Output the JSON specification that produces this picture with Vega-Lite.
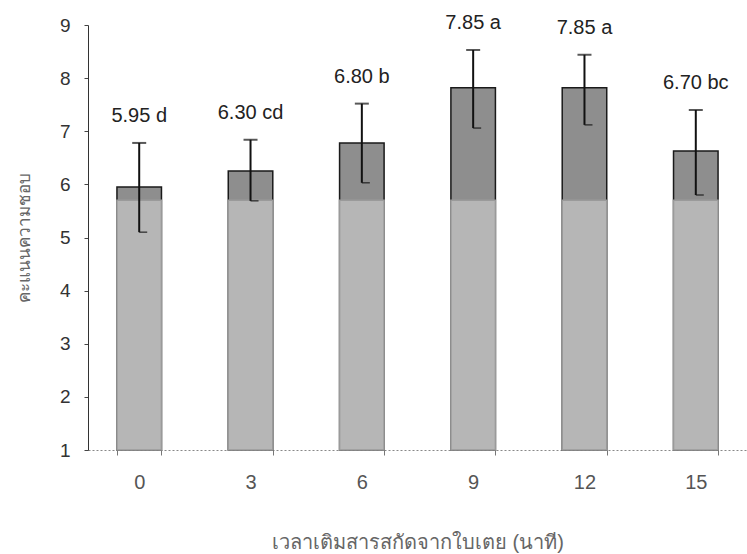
{
  "$schema": "https://vega.github.io/schema/vega-lite/v6.json",
  "width": 659,
  "height": 425,
  "autosize": "none",
  "padding": {"left": 88, "top": 25, "right": 0, "bottom": 104},
  "background": "white",
  "config": {"view": {"stroke": null}, "font": "Liberation Sans"},
  "data": {
    "values": [
      {"t": "0", "mean": 5.95, "lo": 5.10, "hi": 6.78, "label": "5.95 d"},
      {"t": "3", "mean": 6.25, "lo": 5.69, "hi": 6.84, "label": "6.30 cd"},
      {"t": "6", "mean": 6.78, "lo": 6.03, "hi": 7.52, "label": "6.80 b"},
      {"t": "9", "mean": 7.82, "lo": 7.06, "hi": 8.53, "label": "7.85 a"},
      {"t": "12", "mean": 7.82, "lo": 7.12, "hi": 8.44, "label": "7.85 a"},
      {"t": "15", "mean": 6.63, "lo": 5.80, "hi": 7.40, "label": "6.70 bc"}
    ]
  },
  "encoding": {
    "x": {
      "field": "t",
      "type": "ordinal",
      "sort": null,
      "scale": {"paddingInner": 0.6, "paddingOuter": 0.26},
      "axis": {
        "title": "เวลาเติมสารสกัดจากใบเตย (นาที)",
        "titleFontSize": 20,
        "titleFontWeight": "normal",
        "titleColor": "#666666",
        "titlePadding": 40,
        "labelAngle": 0,
        "labelFontSize": 20,
        "labelColor": "#555555",
        "labelPadding": 17,
        "ticks": true,
        "tickBand": "extent",
        "tickSize": 5,
        "tickColor": "#777777",
        "tickWidth": 1,
        "domainColor": "#888888",
        "domainDash": [2, 2],
        "domainWidth": 1
      }
    }
  },
  "layer": [
    {
      "mark": {"type": "bar", "color": "#8e8e8e", "stroke": "#1a1a1a", "strokeWidth": 1.5},
      "encoding": {
        "y": {
          "field": "mean",
          "type": "quantitative",
          "scale": {"domain": [1, 9], "zero": false, "nice": false},
          "axis": {
            "title": "คะแนนความชอบ",
            "titleFontSize": 17,
            "titleFontWeight": "normal",
            "titleColor": "#666666",
            "titlePadding": 26,
            "values": [1, 2, 3, 4, 5, 6, 7, 8, 9],
            "grid": false,
            "labelFontSize": 19,
            "labelColor": "#333333",
            "labelPadding": 14,
            "tickSize": 4,
            "tickColor": "#444444",
            "domainColor": "#333333"
          }
        },
        "y2": {"datum": 1}
      }
    },
    {
      "mark": {"type": "bar", "color": "#b6b6b6", "stroke": "#9a9a9a", "strokeWidth": 1.5},
      "encoding": {
        "y": {"datum": 5.7, "type": "quantitative"},
        "y2": {"datum": 1}
      }
    },
    {
      "mark": {"type": "rule", "color": "#111111", "strokeWidth": 2},
      "encoding": {
        "y": {"field": "lo", "type": "quantitative"},
        "y2": {"field": "hi"}
      }
    },
    {
      "mark": {"type": "tick", "color": "#111111", "thickness": 2, "size": 14},
      "encoding": {"y": {"field": "hi", "type": "quantitative"}}
    },
    {
      "mark": {"type": "tick", "color": "#111111", "thickness": 1.5, "size": 8, "xOffset": 4},
      "encoding": {"y": {"field": "lo", "type": "quantitative"}}
    },
    {
      "mark": {"type": "text", "fontSize": 20, "color": "#222222", "dy": -27, "baseline": "middle"},
      "encoding": {
        "y": {"field": "hi", "type": "quantitative"},
        "text": {"field": "label"}
      }
    }
  ]
}
